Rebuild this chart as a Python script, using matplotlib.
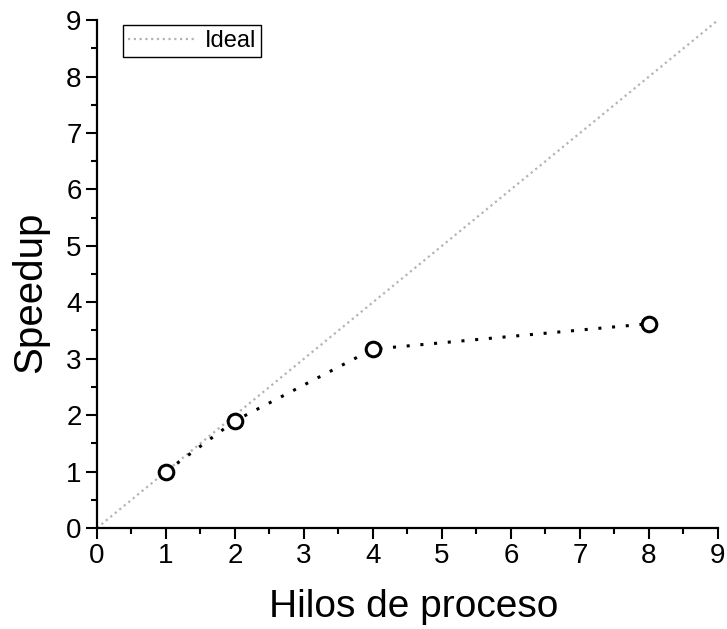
import numpy as np
import matplotlib.pyplot as plt
from matplotlib.ticker import MultipleLocator

plt.rcParams['font.family'] = ['Liberation Sans', 'DejaVu Sans']

# threads vs measured speedup
threads = [1, 2, 4, 8]
speedup = [1.0, 1.9, 3.17, 3.62]
ideal_x = [0, 9]
ideal_y = [0, 9]

fig = plt.figure(figsize=(7.27, 6.29), dpi=100)
ax = fig.add_axes([0.1334, 0.1606, 0.8542, 0.8074])

ax.plot(ideal_x, ideal_y, ls=(0, (1, 1.6)), color='#b4b4b4', lw=1.6, label='Ideal')
ax.plot(threads, speedup, ls=(0, (1, 3.5)), color='black', lw=2.2,
        marker='o', markersize=10.5, markerfacecolor='white',
        markeredgecolor='black', markeredgewidth=2.2)

ax.set_xlim(0, 9)
ax.set_ylim(0, 9)
ax.xaxis.set_major_locator(MultipleLocator(1))
ax.yaxis.set_major_locator(MultipleLocator(1))
ax.xaxis.set_minor_locator(MultipleLocator(0.5))
ax.yaxis.set_minor_locator(MultipleLocator(0.5))
ax.tick_params(which='major', direction='out', length=8, width=1.5, labelsize=20, pad=3)
ax.tick_params(which='minor', direction='out', length=4, width=1.5)
ax.spines['top'].set_visible(False)
ax.spines['right'].set_visible(False)
ax.spines['left'].set_linewidth(1.6)
ax.spines['bottom'].set_linewidth(1.6)

ax.set_xlabel('Hilos de proceso', fontsize=28)
ax.set_ylabel('Speedup', fontsize=29, labelpad=12)
ax.xaxis.set_label_coords(0.51, -0.121)
ax.yaxis.label.set_y(0.465)

leg = ax.legend(loc='upper left', bbox_to_anchor=(0.042, 0.99), fontsize=17,
                fancybox=False, framealpha=1, edgecolor='black',
                handlelength=2.9, handletextpad=0.38, borderpad=0.2,
                borderaxespad=0.0)
leg.get_frame().set_linewidth(1)

fig.savefig('out.png', dpi=100)
